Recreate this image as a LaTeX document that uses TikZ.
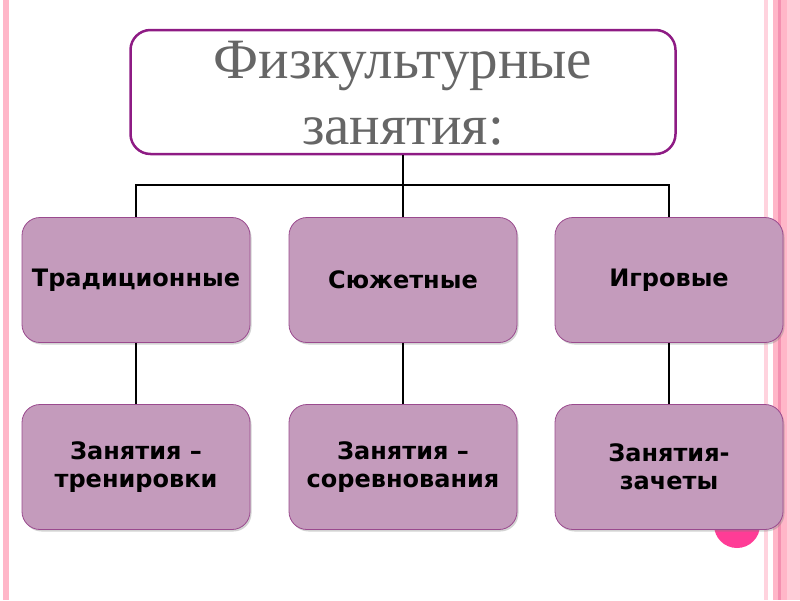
\documentclass[tikz,border=0pt]{standalone}
\usepackage{fontspec}
\setmainfont{Liberation Serif}
\newfontfamily\boxfont{DejaVu Sans}
\usetikzlibrary{shadows, positioning}

\definecolor{titleborder}{HTML}{8E1B84}
\definecolor{boxfill}{HTML}{C49BBC}
\definecolor{boxborder}{HTML}{9A4A8E}
\definecolor{stripe}{HTML}{FFB6C8}
\definecolor{stripedark}{HTML}{F490B0}
\definecolor{dotpink}{HTML}{FF3C96}

\begin{document}
\begin{tikzpicture}[x=1pt, y=-1pt,
    titlebox/.style={draw=titleborder, line width=2.5pt, rounded corners=20pt, fill=white,
        minimum width=545pt, minimum height=124pt},
    titletext/.style={align=center, text=black!60, font=\fontsize{57}{66}\selectfont},
    kindbox/.style={draw=boxborder, line width=0.8pt, rounded corners=18pt, fill=boxfill,
        minimum width=228pt, minimum height=125pt, align=center,
        font=\boxfont\bfseries\fontsize{24}{28}\selectfont,
        drop shadow={shadow xshift=1.5pt, shadow yshift=-2pt, opacity=0.35}},
    link/.style={line width=1.3pt}]
    \useasboundingbox (0,0) rectangle (800,600);

    % Side stripes
    \fill[stripe] (3,0) rectangle (9,600);
    \fill[stripe!60] (764,0) rectangle (768,600);
    \fill[stripe] (773,0) rectangle (800,600);
    \fill[stripedark] (778,0) rectangle (781,600);
    \fill[stripe!70] (787,0) rectangle (800,600);

    % Dot behind the last box
    \fill[dotpink] (737,525) circle (23);

    % Title
    \node[titlebox] (title) at (403,92) {};
    \node[titletext] (titlelabel) at (403,93) {Физкультурные\\занятия:};

    % First row
    \node[kindbox] (trad) at (136,280) {Традиционные};
    \node[kindbox] (plot) at (403,280) {Сюжетные};
    \node[kindbox] (game) at (669,280) {Игровые};

    % Second row
    \node[kindbox] (train) at (136,467) {Занятия –\\тренировки};
    \node[kindbox] (contest) at (403,467) {Занятия –\\соревнования};
    \node[kindbox] (test) at (669,467) {Занятия-\\зачеты};

    % Links
    \coordinate (split) at (403,185);
    \draw[link] (title.south) -- (split);
    \draw[link] (split) -| (trad.north);
    \draw[link] (split) -- (plot.north);
    \draw[link] (split) -| (game.north);
    \draw[link] (trad.south) -- (train.north);
    \draw[link] (plot.south) -- (contest.north);
    \draw[link] (game.south) -- (test.north);
\end{tikzpicture}
\end{document}
